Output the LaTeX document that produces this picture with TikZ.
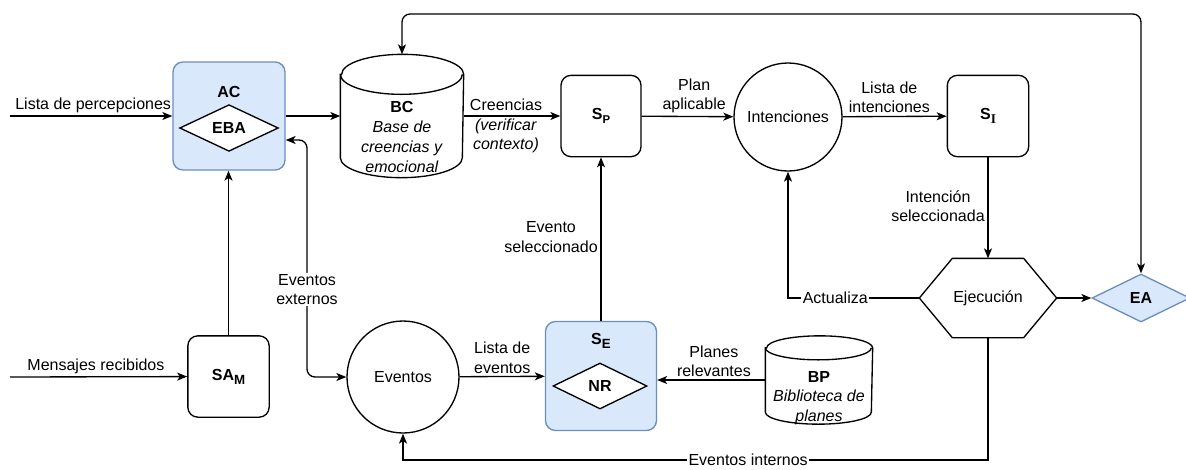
\documentclass[tikz,border=0pt]{standalone}
\usepackage{fontspec}
\setmainfont{Liberation Sans}
\newfontfamily\idxserif{Liberation Serif}
\usetikzlibrary{shapes.geometric,arrows.meta}
\definecolor{boxfill}{HTML}{DAE8FC}
\definecolor{boxline}{HTML}{6C8EBF}

% cylinder outline around an empty frame node: #1 node, #2 x radius, #3 y radius
\newcommand\drawdrum[3]{%
  \draw[fill=white] ([yshift=-#3]#1.north west) -- ([yshift=#3]#1.south west)
    arc[start angle=180,end angle=360,x radius=#2,y radius=#3]
    -- ([yshift=-#3]#1.north east)
    arc[start angle=0,end angle=180,x radius=#2,y radius=#3] -- cycle;
  \draw ([yshift=-#3]#1.north west) arc[start angle=180,end angle=360,x radius=#2,y radius=#3];
}
% lowered index in a given size: #1 size in pt, #2 text
\newcommand\lowidx[2]{\raisebox{-3pt}{\fontsize{#1}{#1}\selectfont #2}}

\begin{document}
\begin{tikzpicture}[x=0.75pt,y=-0.75pt,line width=1pt,
  font=\fontsize{12}{14.4}\selectfont,
  rbox/.style={draw, rounded corners=7.5pt, minimum width=61pt, minimum height=61pt,
    inner sep=0pt, font=\fontsize{12}{14.4}\selectfont\bfseries},
  bluebox/.style={rbox, fill=boxfill, draw=boxline},
  dia/.style={diamond, draw, fill=white, inner sep=0pt, aspect=2,
    font=\fontsize{12}{14.4}\selectfont\bfseries},
  circ/.style={circle, draw, inner sep=0pt},
  frame/.style={draw=none, inner sep=0pt},
  arr/.style={-{Stealth[length=7.5pt,width=6pt,inset=2pt]}},
  darr/.style={{Stealth[length=7.5pt,width=6pt,inset=2pt]}-{Stealth[length=7.5pt,width=6pt,inset=2pt]}},
  lbl/.style={align=center, inner sep=2pt},
  wlbl/.style={lbl, fill=white, inner sep=1pt}]

\useasboundingbox (0,0) rectangle (1186,469);

% free ends and routing levels
\coordinate (inP) at (10,116);
\coordinate (inM) at (10,377);
\coordinate (top) at (700,14);
\coordinate (bot) at (700,460);
\coordinate (xv) at (307,0);

% AC with EBA
\node[bluebox, minimum width=84pt, minimum height=81pt] (ac) at (229,116) {};
\node[font=\fontsize{12}{14.4}\selectfont\bfseries] (aclabel) at (229,92) {AC};
\node[dia, minimum width=74pt, minimum height=35pt] (eba) at (229,128) {EBA};
\coordinate (acx) at ([yshift=-18pt]ac.east);

% BC cylinder
\node[frame, minimum width=91.5pt, minimum height=91.5pt] (bc) at (402,116) {};
\drawdrum{bc}{45.75pt}{15pt}
\node[align=center, font=\fontsize{12}{15}\selectfont] (bctext) at (402,137)
  {\textbf{BC}\\\textit{Base de}\\\textit{creencias y}\\\textit{emocional}};

% selectors
\node[rbox, minimum width=60pt] (sp) at (601,116) {S\lowidx{8.5}{P}};
\node[circ, minimum size=81pt] (int) at (788,117) {Intenciones};
\node[rbox] (si) at (988,116) {S\lowidx{10}{\idxserif I}};

% Ejecucion hexagon
\node[frame, minimum width=102pt, minimum height=58.5pt] (eje) at (988,298) {Ejecución};
\draw (eje.west) -- ([xshift=24.75pt]eje.north west) -- ([xshift=-24.75pt]eje.north east)
  -- (eje.east) -- ([xshift=-24.75pt]eje.south east) -- ([xshift=24.75pt]eje.south west) -- cycle;

% EA
\node[dia, fill=boxfill, draw=boxline, minimum width=73.5pt, minimum height=36pt] (ea) at (1141,298) {EA};

% Eventos, SE with NR, BP, SAM
\node[circ, minimum size=84pt] (eve) at (403,377) {Eventos};
\node[bluebox, minimum width=83.25pt, minimum height=81.75pt] (se) at (601,376) {};
\node[font=\fontsize{12}{14.4}\selectfont\bfseries] (selabel) at (601,341) {S\lowidx{10}{E}};
\node[dia, minimum width=70.5pt, minimum height=34.5pt] (nr) at (600,386) {NR};

\node[frame, minimum width=79.5pt, minimum height=65.25pt] (bp) at (819,380) {};
\drawdrum{bp}{39.75pt}{9pt}
\node[align=center, font=\fontsize{12}{14.6}\selectfont] (bptext) at (819,398)
  {\textbf{BP}\\\textit{Biblioteca de}\\\textit{planes}};

\node[rbox] (sam) at (228.5,376.5) {SA\lowidx{10}{M}};

% connectors
\draw[arr] (inP) -- node[lbl, above, xshift=1.5pt] {Lista de percepciones} (ac);
\draw[arr] (ac) -- (bc);
\draw[arr] (bc) -- node[lbl, xshift=-4.5pt, yshift=-7.5pt]
  {Creencias\\\textit{(verificar}\\\textit{contexto)}} (sp);
\draw[arr] (sp) -- node[lbl, above, xshift=5pt] {Plan\\aplicable} (int);
\draw[arr] (int) -- node[lbl, above, xshift=-4pt] {Lista de\\intenciones} (si);
\draw[arr] (si) -- node[lbl, left, yshift=1.5pt] {Intención\\seleccionada} (eje);
\draw[arr] (eje) -- (ea);
\draw[darr, rounded corners=6pt] (bc.north) -- (bc.north |- top) -- (ea.north |- top) -- (ea.north);
\draw[arr] (eje.west) -- node[wlbl, pos=0.64] {Actualiza} (int.south |- eje.west) -- (int.south);
\draw[arr] (eje.south) -- (eje.south |- bot) -- node[wlbl, pos=0.41] {Eventos internos} (eve.south |- bot) -- (eve.south);
\draw[arr] (eve) -- node[lbl, above] {Lista de\\eventos} (se);
\draw[arr] (se) -- node[lbl, left, yshift=1.5pt] {Evento\\seleccionado} (sp);
\draw[arr] (bp.west) -- node[lbl, above, xshift=2pt] {Planes\\relevantes} (se.east |- bp.west);
\draw[arr] (inM) -- node[lbl, above, xshift=-2pt] {Mensajes recibidos} (sam);
\draw[arr] (sam.north) -- (sam.north |- ac.south);
\draw[darr, rounded corners=6pt] (acx) -- (xv |- acx)
  -- node[wlbl, pos=0.63] {Eventos\\externos} (xv |- eve.west) -- (eve.west);

\end{tikzpicture}
\end{document}
